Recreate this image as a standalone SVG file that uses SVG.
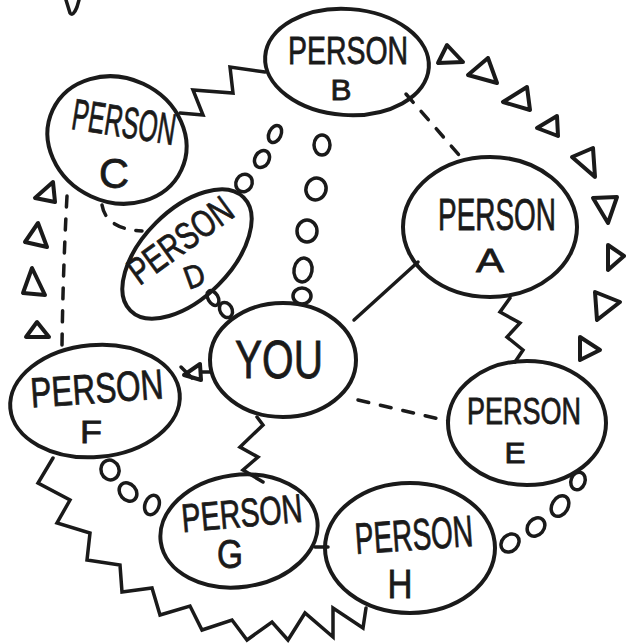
<svg xmlns="http://www.w3.org/2000/svg" width="626" height="643" viewBox="0 0 626 643">
<style>
.n{fill:none;stroke:#1a1a1a;stroke-width:4;stroke-linejoin:round;stroke-linecap:round}
.c{fill:none;stroke:#1a1a1a;stroke-width:3.5;stroke-linejoin:miter;stroke-linecap:round}
.d{fill:none;stroke:#1a1a1a;stroke-width:3.5;stroke-dasharray:11 12;stroke-linecap:round}
.t{fill:#1a1a1a;stroke:#1a1a1a;stroke-width:0.8;font-family:"Liberation Sans","DejaVu Sans",sans-serif;font-size:38px;text-anchor:middle}
.y{font-size:54px}
.o{fill:none;stroke:#1a1a1a;stroke-width:3.5}
.tri{fill:none;stroke:#1a1a1a;stroke-width:4;stroke-linejoin:round}
</style>
<rect width="626" height="643" fill="#ffffff"/>
<path class="c" d="M66,0 L70,13 Q73,17 77,7 L79,0"/>
<g id="connectors">
  <path id="B-C" class="c" d="M180,113 L203,115 L193,90 L233,93 L230,67 L265,72"/>
  <path id="B-A" class="d" d="M406,94 L466,163"/>
  <g id="B-YOU">
    <ellipse class="o" cx="322" cy="145" rx="8" ry="10"/>
    <ellipse class="o" cx="316" cy="189" rx="10" ry="11" transform="rotate(20 316 189)"/>
    <ellipse class="o" cx="307" cy="231" rx="10" ry="11"/>
    <ellipse class="o" cx="303" cy="270" rx="9" ry="12" transform="rotate(10 303 270)"/>
    <ellipse class="o" cx="302" cy="296" rx="9" ry="8"/>
  </g>
  <g id="D-B">
    <ellipse class="o" cx="275" cy="134" rx="6" ry="9" transform="rotate(25 275 134)"/>
    <ellipse class="o" cx="262" cy="159" rx="7" ry="9" transform="rotate(30 262 159)"/>
    <ellipse class="o" cx="244" cy="183" rx="8" ry="9" transform="rotate(30 244 183)"/>
  </g>
  <path id="C-D" class="d" d="M102,205 Q106,229 142,231"/>
  <path id="C-F" class="d" d="M67,196 Q63,270 62,345"/>
  <g id="C-F-tri">
    <polygon class="tri" points="53,182 35,198 55,202"/>
    <polygon class="tri" points="38,223 25,242 47,247"/>
    <polygon class="tri" points="32,268 23,293 45,295"/>
    <polygon class="tri" points="37,322 26,337 49,337"/>
  </g>
  <g id="D-YOU">
    <ellipse class="o" cx="213" cy="298" rx="5" ry="8" transform="rotate(-30 213 298)"/>
    <ellipse class="o" cx="226" cy="310" rx="6" ry="8" transform="rotate(-30 226 310)"/>
  </g>
  <path id="A-YOU" class="c" d="M418,262 L354,320"/>
  <path id="A-E" class="c" d="M510,298 L500,312 L520,323 L507,337 L523,350 L515,362"/>
  <path id="YOU-E" class="d" d="M358,400 L448,421"/>
  <g id="B-E-tri">
    <polygon class="tri" points="447,45 438,63 463,62"/>
    <polygon class="tri" points="488,58 468,75 497,83"/>
    <polygon class="tri" points="527,87 503,102 530,110"/>
    <polygon class="tri" points="557,116 537,128 558,136"/>
    <polygon class="tri" points="572,157 593,148 595,177"/>
    <polygon class="tri" points="593,198 617,197 608,223"/>
    <polygon class="tri" points="608,245 624,256 608,270"/>
    <polygon class="tri" points="595,292 620,302 597,320"/>
    <polygon class="tri" points="580,337 600,350 580,360"/>
  </g>
  <g id="F-YOU">
    <path class="c" d="M181,367 L192,378"/>
    <polygon class="tri" points="184,375 200,364 201,380"/>
    <path class="c" d="M201,372 L210,372"/>
  </g>
  <g id="F-G">
    <ellipse class="o" cx="110" cy="470" rx="9" ry="10" transform="rotate(-20 110 470)"/>
    <ellipse class="o" cx="128" cy="492" rx="8" ry="10" transform="rotate(-40 128 492)"/>
    <ellipse class="o" cx="152" cy="505" rx="7" ry="10" transform="rotate(20 152 505)"/>
  </g>
  <path id="F-H" class="c" d="M53,458 L38,483 L70,500 L57,523 L90,533 L87,560 L120,565 L122,592 L152,588 L160,615 L190,606 L202,630 L232,620 L247,640 L272,622 L288,640 L305,613 L333,637 L333,608 L363,628 L366,608"/>
  <path id="G-H" class="c" d="M315,547 L328,547"/>
  <path id="YOU-G" class="c" d="M257,417 L263,425 L240,447 L258,457 L243,470 L263,482"/>
  <g id="E-H">
    <ellipse class="o" cx="578" cy="481" rx="7" ry="9" transform="rotate(20 578 481)"/>
    <ellipse class="o" cx="560" cy="506" rx="8" ry="11" transform="rotate(30 560 506)"/>
    <ellipse class="o" cx="536" cy="527" rx="8" ry="10" transform="rotate(40 536 527)"/>
    <ellipse class="o" cx="510" cy="543" rx="8" ry="10" transform="rotate(45 510 543)"/>
  </g>
</g>
<g id="personB">
  <ellipse class="n" cx="347" cy="62" rx="82" ry="53" transform="rotate(4 347 62)"/>
  <text class="t" x="348" y="64" textLength="120" lengthAdjust="spacingAndGlyphs">PERSON</text>
  <text class="t" x="341" y="100" textLength="21" lengthAdjust="spacingAndGlyphs" style="font-size:30px">B</text>
</g>
<g id="personC">
  <ellipse class="n" cx="117" cy="140" rx="71" ry="62" transform="rotate(25 117 140)"/>
  <text class="t" transform="rotate(9 123 128)" x="123" y="137" textLength="104" lengthAdjust="spacingAndGlyphs" style="font-size:44px">PERSON</text>
  <text class="t" x="114" y="188" textLength="30" lengthAdjust="spacingAndGlyphs" style="font-size:42px">C</text>
</g>
<g id="personD">
  <ellipse class="n" cx="187" cy="254" rx="80" ry="44" transform="rotate(-45 187 254)"/>
  <text class="t" transform="rotate(-36 181 241)" x="181" y="253" textLength="120" lengthAdjust="spacingAndGlyphs" style="font-size:38px">PERSON</text>
  <text class="t" transform="rotate(-20 194 275)" x="194" y="287" textLength="20" lengthAdjust="spacingAndGlyphs" style="font-size:32px">D</text>
</g>
<g id="personA">
  <ellipse class="n" cx="490" cy="227" rx="87" ry="70"/>
  <text class="t" x="497" y="230" textLength="118" lengthAdjust="spacingAndGlyphs" style="font-size:44px">PERSON</text>
  <text class="t" x="490" y="272" textLength="28" lengthAdjust="spacingAndGlyphs" style="font-size:34px">A</text>
</g>
<g id="you">
  <ellipse class="n" cx="283" cy="360" rx="73" ry="57"/>
  <text class="t y" x="279" y="378" textLength="88" lengthAdjust="spacingAndGlyphs">YOU</text>
</g>
<g id="personE">
  <ellipse class="n" cx="527" cy="423" rx="79" ry="62"/>
  <text class="t" x="524" y="424" textLength="114" lengthAdjust="spacingAndGlyphs" style="font-size:37px">PERSON</text>
  <text class="t" x="515" y="463" textLength="21" lengthAdjust="spacingAndGlyphs" style="font-size:30px">E</text>
</g>
<g id="personF">
  <ellipse class="n" cx="95" cy="401" rx="85" ry="56" transform="rotate(-5 95 401)"/>
  <text class="t" transform="rotate(-4 97 390)" x="97" y="403" textLength="133" lengthAdjust="spacingAndGlyphs" style="font-size:42px">PERSON</text>
  <text class="t" x="91" y="443" textLength="22" lengthAdjust="spacingAndGlyphs" style="font-size:32px">F</text>
</g>
<g id="personG">
  <ellipse class="n" cx="239" cy="531" rx="79" ry="56" transform="rotate(-8 239 531)"/>
  <text class="t" transform="rotate(-5 242 514)" x="242" y="527" textLength="121" lengthAdjust="spacingAndGlyphs" style="font-size:40px">PERSON</text>
  <text class="t" x="230" y="568" textLength="26" lengthAdjust="spacingAndGlyphs" style="font-size:40px">G</text>
</g>
<g id="personH">
  <ellipse class="n" cx="410" cy="548" rx="85" ry="65"/>
  <text class="t" transform="rotate(-4 414 536)" x="414" y="550" textLength="118" lengthAdjust="spacingAndGlyphs" style="font-size:44px">PERSON</text>
  <text class="t" x="400" y="598" textLength="25" lengthAdjust="spacingAndGlyphs" style="font-size:40px">H</text>
</g>
</svg>
